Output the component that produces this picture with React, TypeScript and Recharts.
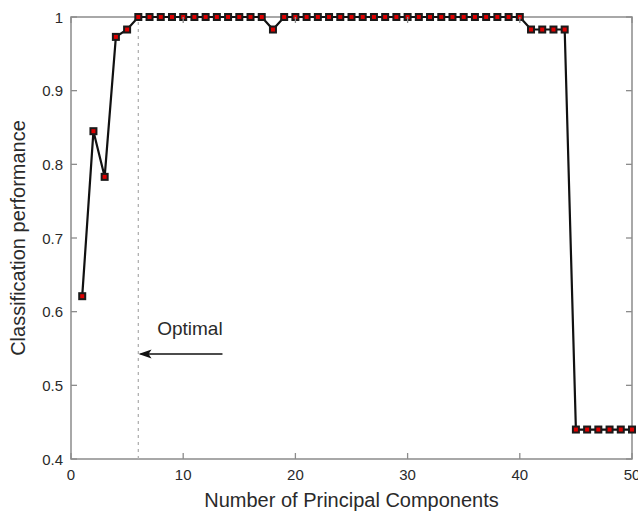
import React from "react";
import {
  LineChart,
  Line,
  XAxis,
  YAxis,
  ReferenceLine,
  ReferenceDot,
  ReferenceArea,
} from "recharts";

const components = [
  1, 2, 3, 4, 5, 6, 7, 8, 9, 10, 11, 12, 13, 14, 15, 16, 17, 18, 19, 20, 21, 22,
  23, 24, 25, 26, 27, 28, 29, 30, 31, 32, 33, 34, 35, 36, 37, 38, 39, 40, 41, 42,
  43, 44, 45, 46, 47, 48, 49, 50,
];
const performance = [
  0.621, 0.845, 0.783, 0.973, 0.983, 1, 1, 1, 1, 1, 1, 1, 1, 1, 1, 1, 1, 0.983,
  1, 1, 1, 1, 1, 1, 1, 1, 1, 1, 1, 1, 1, 1, 1, 1, 1, 1, 1, 1, 1, 1, 0.983, 0.983,
  0.983, 0.983, 0.44, 0.44, 0.44, 0.44, 0.44, 0.44,
];
const xTicks = [0, 10, 20, 30, 40, 50];
const yTicks = [0.4, 0.5, 0.6, 0.7, 0.8, 0.9, 1];
const optimalComponents = 6;
const arrowStart = { x: 13.5, y: 0.5425 };
const arrowEnd = { x: 6.2, y: 0.5425 };
const optimalLabel = { x: 10.6, y: 0.577, text: "Optimal" };

const data = components.map((c, i) => ({ n: c, p: performance[i] }));

const W = 638;
const H = 511;
const PL = 71;
const PR = 632;
const PT = 17;
const PB = 459;
const FONT = "'Liberation Sans', Arial, Helvetica, sans-serif";
const AXIS_COLOR = "#8c8c8c";
const TEXT_COLOR = "#2a2a2a";

const YTick = (props: any) => {
  const { x, y, payload } = props;
  return (
    <g>
      <text
        x={x}
        y={y}
        textAnchor="end"
        dominantBaseline="central"
        fontSize={15}
        fontFamily={FONT}
        fill={TEXT_COLOR}
      >
        {payload.value}
      </text>
      <line x1={PL} x2={PL + 6} y1={y} y2={y} stroke={AXIS_COLOR} strokeWidth={1.3} />
      <line x1={PR - 6} x2={PR} y1={y} y2={y} stroke={AXIS_COLOR} strokeWidth={1.3} />
    </g>
  );
};

const XTick = (props: any) => {
  const { x, y, payload } = props;
  return (
    <g>
      <text
        x={x}
        y={y}
        dy="0.71em"
        textAnchor="middle"
        fontSize={15}
        fontFamily={FONT}
        fill={TEXT_COLOR}
      >
        {payload.value}
      </text>
      <line x1={x} x2={x} y1={PB} y2={PB - 6} stroke={AXIS_COLOR} strokeWidth={1.3} />
      <line x1={x} x2={x} y1={PT} y2={PT + 6} stroke={AXIS_COLOR} strokeWidth={1.3} />
    </g>
  );
};

const SquareDot = (props: any) => {
  const { cx, cy, index } = props;
  if (cx == null || cy == null) return <g key={index} />;
  return (
    <g key={index}>
      <rect x={cx - 4} y={cy - 4} width={8} height={8} fill="#1a1a1a" />
      <rect x={cx - 2} y={cy - 2} width={4} height={4} fill="#dd0000" />
    </g>
  );
};

export default function App() {
  return (
    <div style={{ position: "absolute", left: 0, top: 0, width: W, height: H, background: "#fff" }}>
      <LineChart
        width={W}
        height={H}
        data={data}
        margin={{ top: PT, right: W - PR, left: 0, bottom: 0 }}
      >
        <ReferenceArea
          x1={0}
          x2={50}
          y1={0.4}
          y2={1}
          fill="none"
          stroke={AXIS_COLOR}
          strokeWidth={1.5}
          ifOverflow="visible"
        />
        <XAxis
          dataKey="n"
          type="number"
          domain={[0, 50]}
          ticks={xTicks}
          height={H - PB}
          axisLine={false}
          tickLine={false}
          tickSize={0}
          tickMargin={10}
          tick={<XTick />}
          interval={0}
          label={{
            value: "Number of Principal Components",
            position: "insideBottom",
            offset: 4,
            fontSize: 20,
            fontFamily: FONT,
            fill: TEXT_COLOR,
          }}
        />
        <YAxis
          type="number"
          domain={[0.4, 1]}
          ticks={yTicks}
          width={PL}
          axisLine={false}
          tickLine={false}
          tickSize={0}
          tickMargin={8}
          tick={<YTick />}
          interval={0}
          label={{
            content: () => (
              <text
                transform={`translate(18, ${(PT + PB) / 2}) rotate(-90)`}
                textAnchor="middle"
                dominantBaseline="central"
                fontSize={20}
                fontFamily={FONT}
                fill={TEXT_COLOR}
              >
                Classification performance
              </text>
            ),
          }}
        />
        <ReferenceLine
          x={optimalComponents}
          stroke="#b0b0b0"
          strokeWidth={1.3}
          strokeDasharray="3 4"
        />
        <ReferenceLine
          segment={[arrowStart, arrowEnd]}
          stroke="#111"
          strokeWidth={1.5}
        />
        <ReferenceDot
          x={arrowEnd.x}
          y={arrowEnd.y}
          shape={(p: any) => (
            <path
              d={`M ${p.cx - 2} ${p.cy} L ${p.cx + 11} ${p.cy - 4.5} L ${p.cx + 8} ${p.cy} L ${p.cx + 11} ${p.cy + 4.5} Z`}
              fill="#111"
            />
          )}
        />
        <ReferenceDot
          x={optimalLabel.x}
          y={optimalLabel.y}
          shape={(p: any) => (
            <text
              x={p.cx}
              y={p.cy}
              textAnchor="middle"
              dominantBaseline="central"
              fontSize={19}
              fontFamily={FONT}
              fill={TEXT_COLOR}
            >
              {optimalLabel.text}
            </text>
          )}
        />
        <Line
          type="linear"
          dataKey="p"
          stroke="#111"
          strokeWidth={2.2}
          dot={<SquareDot />}
          activeDot={false}
          isAnimationActive={false}
        />
      </LineChart>
    </div>
  );
}
